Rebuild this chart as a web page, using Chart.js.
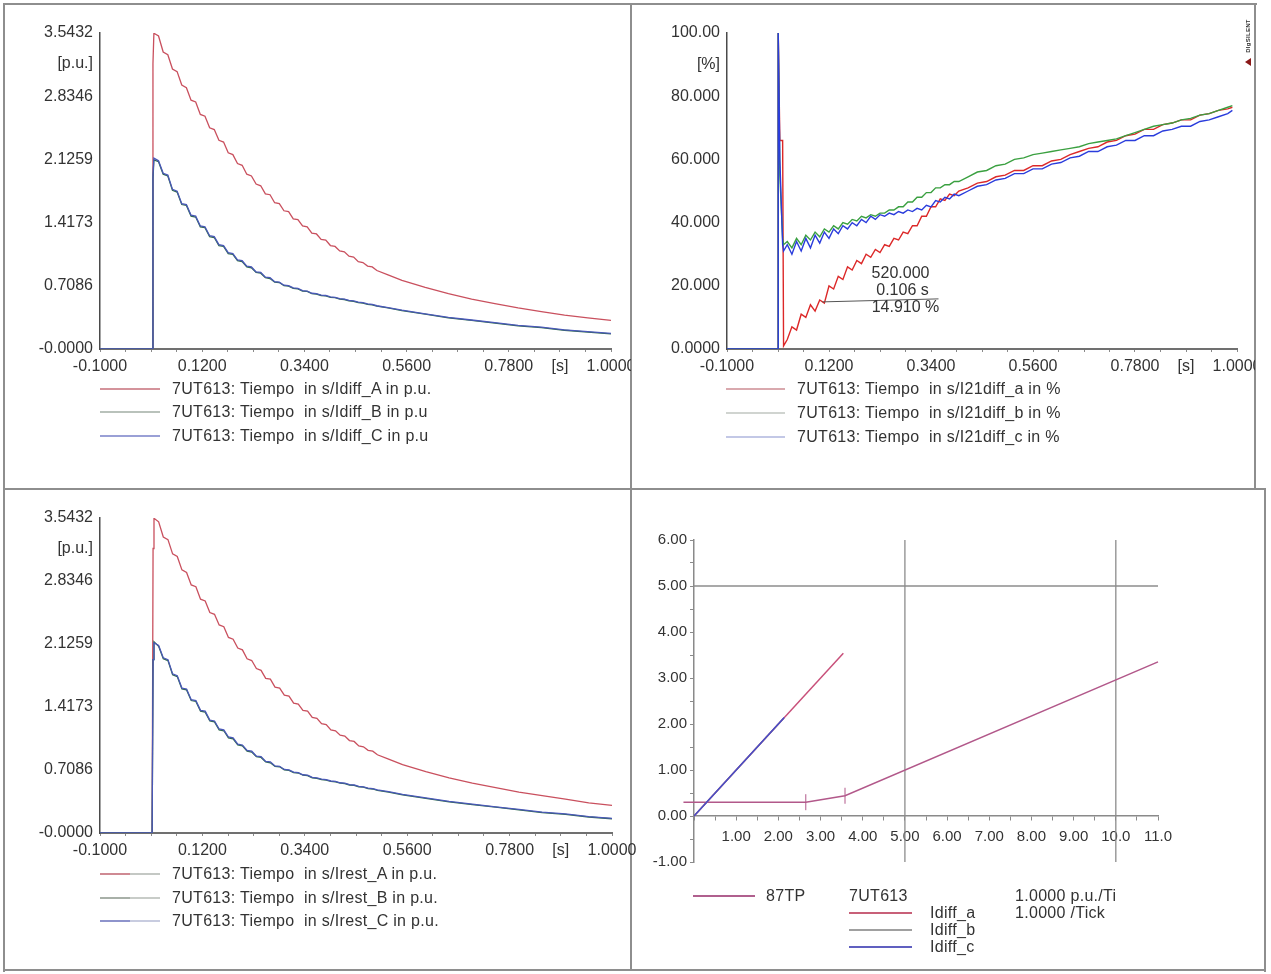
<!DOCTYPE html>
<html><head><meta charset="utf-8">
<script src="https://cdn.jsdelivr.net/npm/chart.js@4.4.0/dist/chart.umd.min.js"></script>
<style>
html,body{margin:0;padding:0;background:#fff;width:1271px;height:974px;overflow:hidden;font-family:"Liberation Sans",Arial,sans-serif;color:#333}
.ln{position:absolute;background:#8e8e8e}
.cw{position:absolute}
.leg{position:absolute;font-size:16px;line-height:18px;white-space:pre;color:#333;letter-spacing:0.3px}
.smp{position:absolute;height:2px}
</style></head><body>
<!-- frame -->
<div class="ln" style="left:3px;top:3px;width:1254px;height:2px"></div>
<div class="ln" style="left:3px;top:3px;width:2px;height:969px"></div>
<div class="ln" style="left:1254px;top:3px;width:2px;height:487px"></div>
<div class="ln" style="left:1264px;top:488px;width:2px;height:484px"></div>
<div class="ln" style="left:3px;top:969px;width:1263px;height:2px"></div>
<div class="ln" style="left:630px;top:3px;width:2px;height:968px"></div>
<div class="ln" style="left:3px;top:488px;width:1263px;height:2px"></div>

<div class="cw" style="left:5px;top:5px"><canvas id="cTL" width="626" height="484"></canvas></div>
<div class="cw" style="left:632px;top:5px"><canvas id="cTR" width="623" height="484"></canvas></div>
<div class="cw" style="left:5px;top:490px"><canvas id="cBL" width="640" height="480"></canvas></div>
<div class="cw" style="left:632px;top:490px"><canvas id="cBR" width="633" height="480"></canvas></div>

<div id="legends"></div>
<div style="position:absolute;left:1224px;top:32px;width:50px;height:8px;text-align:center;transform:rotate(-90deg);font:bold 6px 'Liberation Sans',Arial,sans-serif;color:#333;letter-spacing:0.3px">DIgSILENT</div>
<div style="position:absolute;left:1245px;top:58px;width:0;height:0;border-top:4px solid transparent;border-bottom:4px solid transparent;border-right:6px solid #8a1818"></div>

<script>
const FONT = '"Liberation Sans", Arial, sans-serif';

// ---------- time axis (left and top-right panels) ----------
const timeTickValues = [-0.1,-0.045,0.01,0.065,0.12,0.175,0.23,0.285,0.34,0.395,0.45,0.505,0.56,0.615,0.67,0.725,0.78,0.835,0.89,0.945,1.0];
const timeTickLabels = ['-0.1000','','','','0.1200','','','','0.3400','','','','0.5600','','','','0.7800','','[s]','','1.0000'];
const puTickValues = [0,0.7086,1.4173,2.1259,2.8346,3.195,3.5432];
const puTickLabels = ['-0.0000','0.7086','1.4173','2.1259','2.8346','[p.u.]','3.5432'];
const pctTickValues = [0,20,40,60,80,90,100];
const pctTickLabels = ['0.0000','20.000','40.000','60.000','80.000','[%]','100.00'];

// ---------- Idiff / Irest (p.u.) ----------
const tLeft = [-0.1,0.012,0.014,0.016,
 0.026,0.036,0.046,0.056,0.066,0.076,0.086,0.096,0.106,0.116,0.126,0.136,0.146,0.156,0.166,0.176,0.186,0.196,0.206,0.216,
 0.226,0.236,0.246,0.256,0.266,0.276,0.286,0.296,0.306,0.316,0.326,0.336,0.346,0.356,0.366,0.376,0.386,0.396,0.406,0.416,
 0.426,0.436,0.446,0.456,0.466,0.476,0.486,0.496,
 0.52,0.55,0.60,0.65,0.70,0.75,0.80,0.85,0.90,0.95,1.0];
const idiffA = [0,0,3.2,3.54,
 3.51,3.33,3.30,3.14,3.11,2.96,2.93,2.79,2.77,2.63,2.61,2.48,2.46,2.34,2.32,2.20,2.18,2.08,2.06,1.96,
 1.94,1.85,1.83,1.74,1.73,1.64,1.63,1.55,1.54,1.46,1.45,1.38,1.37,1.30,1.29,1.23,1.22,1.16,1.15,1.10,
 1.09,1.04,1.03,0.98,0.97,0.93,0.92,0.88,
 0.83,0.77,0.69,0.62,0.56,0.51,0.46,0.42,0.38,0.35,0.32];
const idiffB = [0,0,1.9,2.12,
 2.10,1.96,1.94,1.78,1.76,1.62,1.61,1.49,1.48,1.37,1.36,1.26,1.25,1.16,1.15,1.07,1.06,0.99,0.98,0.92,
 0.91,0.86,0.85,0.80,0.79,0.75,0.745,0.71,0.705,0.68,0.675,0.65,0.645,0.62,0.615,0.60,0.595,0.58,0.575,0.56,
 0.555,0.54,0.535,0.52,0.515,0.50,0.495,0.48,
 0.46,0.43,0.39,0.35,0.32,0.29,0.26,0.24,0.21,0.19,0.17];
const idiffC = [0,0,1.95,2.14,
 2.11,1.97,1.95,1.79,1.77,1.63,1.62,1.50,1.49,1.38,1.37,1.27,1.26,1.17,1.16,1.08,1.07,1.00,0.99,0.93,
 0.92,0.865,0.86,0.805,0.80,0.755,0.75,0.715,0.71,0.685,0.68,0.655,0.65,0.625,0.62,0.605,0.60,0.585,0.58,0.565,
 0.56,0.545,0.54,0.525,0.52,0.505,0.50,0.485,
 0.465,0.435,0.395,0.355,0.325,0.295,0.265,0.245,0.215,0.195,0.175];
const irestA = [0,0,3.2,3.54,
 3.50,3.33,3.30,3.14,3.11,2.96,2.93,2.79,2.77,2.63,2.61,2.48,2.46,2.34,2.32,2.20,2.18,2.08,2.06,1.96,
 1.94,1.85,1.83,1.74,1.73,1.64,1.63,1.55,1.54,1.46,1.45,1.38,1.37,1.30,1.29,1.23,1.22,1.16,1.15,1.10,
 1.09,1.04,1.03,0.98,0.97,0.93,0.92,0.88,
 0.83,0.77,0.69,0.62,0.56,0.51,0.46,0.42,0.38,0.34,0.31];
const irestB = [0,0,1.95,2.15,
 2.10,1.96,1.94,1.78,1.76,1.62,1.61,1.49,1.48,1.37,1.36,1.26,1.25,1.16,1.15,1.07,1.06,0.99,0.98,0.92,
 0.91,0.86,0.85,0.80,0.79,0.75,0.745,0.71,0.705,0.68,0.675,0.65,0.645,0.62,0.615,0.60,0.595,0.58,0.575,0.56,
 0.555,0.54,0.535,0.52,0.515,0.50,0.495,0.48,
 0.46,0.43,0.39,0.35,0.32,0.29,0.26,0.23,0.21,0.18,0.16];
const irestC = [0,0,1.95,2.14,
 2.11,1.97,1.95,1.79,1.77,1.63,1.62,1.50,1.49,1.38,1.37,1.27,1.26,1.17,1.16,1.08,1.07,1.00,0.99,0.93,
 0.92,0.865,0.86,0.805,0.80,0.755,0.75,0.715,0.71,0.685,0.68,0.655,0.65,0.625,0.62,0.605,0.60,0.585,0.58,0.565,
 0.56,0.545,0.54,0.525,0.52,0.505,0.50,0.485,
 0.465,0.435,0.395,0.355,0.325,0.295,0.265,0.235,0.215,0.185,0.165];

// ---------- I21diff (%) ----------
const tRight = [-0.1,0.010,0.0105,0.014,0.020,0.022,
 0.03,0.04,0.05,0.06,0.07,0.08,0.09,0.10,0.11,0.12,0.13,0.14,0.15,0.16,0.17,0.18,0.19,0.20,0.21,0.22,0.23,0.24,0.25,
 0.26,0.27,0.28,0.29,0.30,0.31,0.32,0.33,0.34,0.35,0.36,0.37,0.38,0.39,0.40,
 0.42,0.44,0.46,0.48,0.50,0.52,0.54,0.56,0.58,0.60,0.62,0.64,0.66,0.68,0.70,0.72,0.74,0.76,0.78,0.80,
 0.82,0.84,0.86,0.88,0.90,0.92,0.94,0.96,0.98,0.99];
const i21a = [0,0,100,66,66,1,
 3,7,6,11,10,14,12,15.5,14.5,20,19,23,22,26,25,28,27,30,29,31.5,30.5,33,32.5,
 35,34.5,37,36.5,39,39,42,42,45,45,47.5,47,49,48.5,50,
 51,52.5,53,54.5,55,56.5,56.5,58,58,59.5,60,61.5,62.5,63.5,64,65.5,66,67.5,68,69.5,
 69.5,71,71.5,72.5,72.5,74,74.5,75.5,76,76.5];
const i21b = [0,0,100,55,35,33,
 34,32,35,33,36,34.5,37,35.5,38,37,39,38,40,39.5,41,40.5,42,41.5,42.5,42,43,43,44,
 44,45,45,46.5,46.5,48,48,49.5,49.5,51,51,52,52,53,53,
 54.5,56,56.5,58,58.5,60,60.5,61.5,62,62.5,63,63.5,64,65,65.5,66,66.5,67.5,68.5,69.5,
 70.5,71,71.5,72.5,73,74,74.5,75.5,76.5,77];
const i21c = [0,0,100,60,33,31,
 33,30,34,31,35,32,36,33.5,37,35,38,36.5,39,38,40,39,41,40,42,41,42.5,42,43,
 42.5,43.5,43,44,43.5,44.5,44,45.5,45,47,46.5,48,47.5,49,48.5,
 50,51.5,52,53.5,54,55.5,55.5,57,57,58.5,59,60.5,61,62.5,62.5,64,64.5,66,66,67.5,
 67.5,69,69.5,70.5,70.5,72,72.5,73.5,74.5,75.5];
const annotT = 0.106, annotV = 14.91;
const annotLines = ['520.000','0.106 s','14.910 %'];

// ---------- differential characteristic (bottom right) ----------
const xyXTickValues = [0,0.5,1,1.5,2,2.5,3,3.5,4,4.5,5,5.5,6,6.5,7,7.5,8,8.5,9,9.5,10,10.5,11];
const xyXTickLabels = ['','','1.00','','2.00','','3.00','','4.00','','5.00','','6.00','','7.00','','8.00','','9.00','','10.0','','11.0'];
const xyYTickValues = [-1,-0.5,0,0.5,1,1.5,2,2.5,3,3.5,4,4.5,5,5.5,6];
const xyYTickLabels = ['-1.00','','0.00','','1.00','','2.00','','3.00','','4.00','','5.00','','6.00'];
const charX = [-0.25,2.65,3.58,11];
const charY = [0.3,0.3,0.44,3.35];
const trajAX = [0,3.54], trajAY = [0,3.54];
const trajBX = [0,2.12], trajBY = [0,2.12];
const trajCX = [0,2.14], trajCY = [0,2.14];
const refVX = [5,10], refVRange = [-1,6];
const refHY = [5], refHRange = [0,11];

// ---------- legend texts ----------
const legTL = ['7UT613: Tiempo  in s/Idiff_A in p.u.','7UT613: Tiempo  in s/Idiff_B in p.u','7UT613: Tiempo  in s/Idiff_C in p.u'];
const legTR = ['7UT613: Tiempo  in s/I21diff_a in %','7UT613: Tiempo  in s/I21diff_b in %','7UT613: Tiempo  in s/I21diff_c in %'];
const legBL = ['7UT613: Tiempo  in s/Irest_A in p.u.','7UT613: Tiempo  in s/Irest_B in p.u.','7UT613: Tiempo  in s/Irest_C in p.u.'];
const legBR = ['87TP','7UT613','1.0000 p.u./Ti','Idiff_a','1.0000 /Tick','Idiff_b','Idiff_c'];

// ---------- helpers ----------
const pts = (xs, ys) => xs.map((x, i) => ({x, y: ys[i]}));
function ds(data, color, width, order, extra) {
  return Object.assign({data, borderColor: color, backgroundColor: color, borderWidth: width,
    pointRadius: 0, showLine: true, fill: false, tension: 0, order}, extra || {});
}
function timeChart(id, datasets, yMax, yTicks, yLabels, box, plugins) {
  return new Chart(document.getElementById(id), {
    type: 'scatter',
    data: {datasets},
    plugins: plugins || [],
    options: {
      responsive: false, animation: false, events: [],
      layout: {padding: {left: 0, top: box.top, right: box.right, bottom: 0}},
      plugins: {legend: {display: false}, tooltip: {enabled: false}},
      scales: {
        x: {type: 'linear', min: -0.1, max: 1.0,
          afterBuildTicks: s => { s.ticks = timeTickValues.map(v => ({value: v})); },
          afterFit: s => { s.height = box.xh; s.paddingLeft = 0; s.paddingRight = 0; },
          ticks: {autoSkip: false, maxRotation: 0, minRotation: 0, padding: 5, color: '#333',
            font: {family: FONT, size: 16}, callback: (v, i) => timeTickLabels[i]},
          grid: {drawOnChartArea: false, drawTicks: true, tickLength: 3, color: '#8a8a8a', lineWidth: 1},
          border: {color: '#707070', width: 2}},
        y: {type: 'linear', min: 0, max: yMax,
          afterBuildTicks: s => { s.ticks = yTicks.map(v => ({value: v})); },
          afterFit: s => { s.width = box.yw; },
          ticks: {autoSkip: false, padding: 7, color: '#333', font: {family: FONT, size: 16},
            callback: (v, i) => yLabels[i]},
          grid: {drawOnChartArea: false, drawTicks: false},
          border: {color: '#4a4a4a', width: 1.5}}
      }
    }
  });
}

// top-left: Idiff
timeChart('cTL', [
  ds(pts(tLeft, idiffC), '#4a58b8', 1.3, 1),
  ds(pts(tLeft, idiffB), '#2f6a4c', 1.3, 2),
  ds(pts(tLeft, idiffA), '#c9505e', 1.3, 3)
], 3.5432, puTickValues, puTickLabels, {top: 28, right: 20, xh: 140, yw: 95});

// top-right: I21diff
const annotPlugin = {
  id: 'annot',
  afterDatasetsDraw(chart) {
    const {ctx, scales: {x, y}} = chart;
    const px = x.getPixelForValue(annotT), py = y.getPixelForValue(annotV);
    ctx.save();
    ctx.strokeStyle = '#555'; ctx.lineWidth = 1;
    ctx.beginPath(); ctx.moveTo(px, py); ctx.lineTo(px + 116, py - 3); ctx.stroke();
    ctx.fillStyle = '#333'; ctx.font = '16px ' + FONT; ctx.textAlign = 'center'; ctx.textBaseline = 'middle';
    ctx.fillText(annotLines[0], px + 78, py - 28);
    ctx.fillText(annotLines[1], px + 80, py - 11);
    ctx.fillText(annotLines[2], px + 83, py + 6);
    ctx.restore();
  }
};
timeChart('cTR', [
  ds(pts(tRight, i21c), '#2a3cdc', 1.4, 1),
  ds(pts(tRight, i21b), '#3aa040', 1.4, 2),
  ds(pts(tRight, i21a), '#dc2828', 1.4, 3)
], 100, pctTickValues, pctTickLabels, {top: 28, right: 18, xh: 140, yw: 95}, [annotPlugin]);

// bottom-left: Irest
timeChart('cBL', [
  ds(pts(tLeft, irestC), '#4a58b8', 1.3, 1),
  ds(pts(tLeft, irestB), '#2f6a4c', 1.3, 2),
  ds(pts(tLeft, irestA), '#c9505e', 1.3, 3)
], 3.5432, puTickValues, puTickLabels, {top: 28, right: 33, xh: 137, yw: 95});

// bottom-right: characteristic
const refSets = refVX.map(x => ds(pts([x, x], refVRange), '#8c8c8c', 1.3, 10))
  .concat(refHY.map(y => ds(pts(refHRange, [y, y]), '#8c8c8c', 1.3, 10)));
new Chart(document.getElementById('cBR'), {
  type: 'scatter',
  data: {datasets: refSets.concat([
    ds(pts(charX, charY), '#b2588a', 1.5, 5, {clip: false, pointStyle: 'line', pointRotation: 90,
      pointRadius: [0, 8, 8, 0], pointBorderWidth: 1, pointBorderColor: '#b2588a'}),
    ds(pts(trajAX, trajAY), '#c8507a', 1.5, 4),
    ds(pts(trajBX, trajBY), '#8a8a8a', 1.5, 3),
    ds(pts(trajCX, trajCY), '#4a4ac8', 1.5, 2)
  ])},
  options: {
    responsive: false, animation: false, events: [],
    layout: {padding: {left: 0, top: 50, right: 107, bottom: 108}},
    plugins: {legend: {display: false}, tooltip: {enabled: false}},
    scales: {
      x: {type: 'linear', min: 0, max: 11, position: {y: 0},
        afterBuildTicks: s => { s.ticks = xyXTickValues.map(v => ({value: v})); },
        ticks: {autoSkip: false, maxRotation: 0, minRotation: 0, padding: 8, color: '#333',
          font: {family: FONT, size: 15}, callback: (v, i) => xyXTickLabels[i]},
        grid: {drawOnChartArea: false, drawTicks: true, tickLength: 4, color: '#8a8a8a'},
        border: {color: '#8a8a8a', width: 1.5}},
      y: {type: 'linear', min: -1, max: 6, position: 'left',
        afterBuildTicks: s => { s.ticks = xyYTickValues.map(v => ({value: v})); },
        afterFit: s => { s.width = 62; },
        ticks: {autoSkip: false, padding: 3, color: '#333', font: {family: FONT, size: 15},
          callback: (v, i) => xyYTickLabels[i]},
        grid: {drawOnChartArea: false, drawTicks: true, tickLength: 4, color: '#8a8a8a'},
        border: {color: '#8a8a8a', width: 1.5}}
    }
  }
});

// ---------- HTML legends ----------
const L = document.getElementById('legends');
function sample(x, y, w, bg) { const d = document.createElement('div'); d.className = 'smp';
  d.style.left = x + 'px'; d.style.top = (y - 1) + 'px'; d.style.width = w + 'px'; d.style.background = bg; L.appendChild(d); }
function text(x, y, s) { const d = document.createElement('div'); d.className = 'leg';
  d.style.left = x + 'px'; d.style.top = (y - 9) + 'px'; d.textContent = s; L.appendChild(d); }
const tlCols = ['#d4939b', '#b9c2bb', '#9aa0d6'];
[389, 412, 436].forEach((y, i) => { sample(100, y, 60, tlCols[i]); text(172, y, legTL[i]); });
const trCols = ['#d9a9ae', '#d0d4d0', '#c3c8e6'];
[389, 413, 437].forEach((y, i) => { sample(726, y, 59, trCols[i]); text(797, y, legTR[i]); });
const blCols = ['linear-gradient(to right,#cf8a93 50%,#c4c8c4 50%)', 'linear-gradient(to right,#a8b0a8 50%,#c8ccc8 50%)', 'linear-gradient(to right,#8e94cc 50%,#c8cce0 50%)'];
[874, 898, 921].forEach((y, i) => { sample(100, y, 60, blCols[i]); text(172, y, legBL[i]); });
sample(693, 896, 62, '#b0608e'); text(766, 896, legBR[0]); text(849, 896, legBR[1]); text(1015, 896, legBR[2]);
sample(849, 913, 63, '#c86078'); text(930, 913, legBR[3]); text(1015, 913, legBR[4]);
sample(849, 930, 63, '#a0a0a0'); text(930, 930, legBR[5]);
sample(849, 947, 63, '#6060c0'); text(930, 947, legBR[6]);
</script>
</body></html>
